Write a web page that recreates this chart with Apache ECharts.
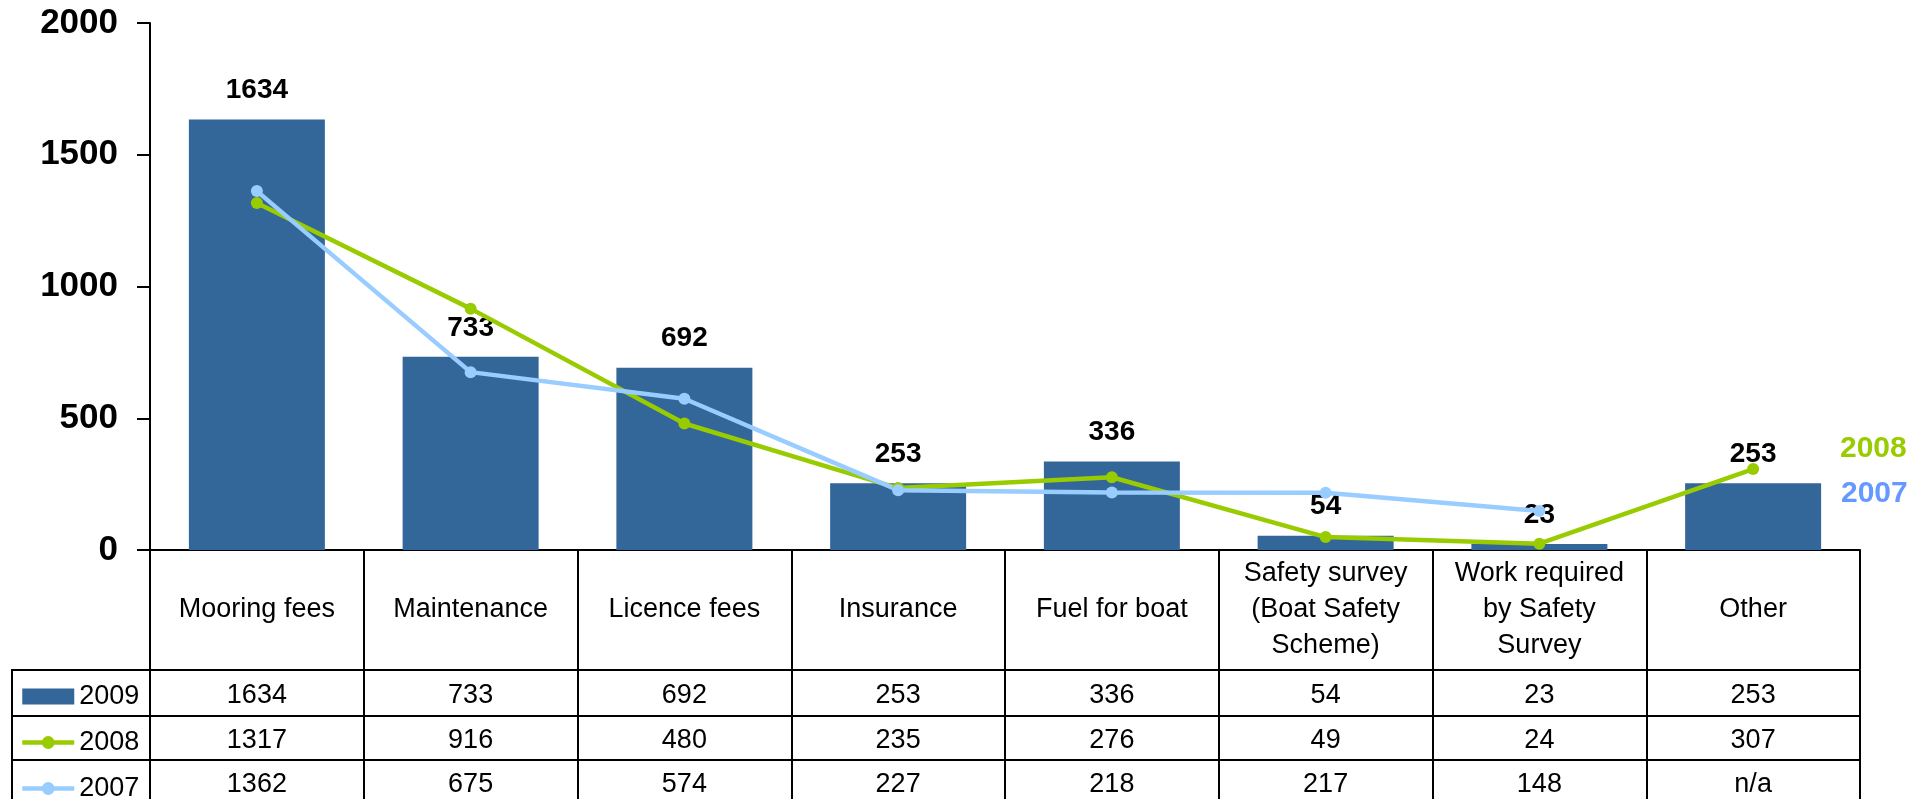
<!DOCTYPE html>
<html>
<head>
<meta charset="utf-8">
<script src="https://cdn.jsdelivr.net/npm/echarts@6/dist/echarts.min.js"></script>
<style>
  html, body { margin: 0; padding: 0; background: #fff; }
  #chart { width: 1930px; height: 799px; }
</style>
</head>
<body>
<div id="chart"></div>
<script>
const categories = [
  'Mooring fees',
  'Maintenance',
  'Licence fees',
  'Insurance',
  'Fuel for boat',
  'Safety survey\n(Boat Safety\nScheme)',
  'Work required\nby Safety\nSurvey',
  'Other'
];
const years = ['2009', '2008', '2007'];
const v2009 = [1634, 733, 692, 253, 336, 54, 23, 253];
const v2008 = [1317, 916, 480, 235, 276, 49, 24, 307];
const v2007 = [1362, 675, 574, 227, 218, 217, 148, null];

const font = 'Liberation Sans, Arial, sans-serif';
const barColor = '#336699';
const greenColor = '#99cc00';
const blueColor = '#99ccff';
const ink = '#000';

const asCell = v => (v == null ? 'n/a' : String(v));

// one category axis per table row, shifted down under the plot
function rowAxis(values, offset, tickLen, margin) {
  return {
    type: 'category',
    gridIndex: 0,
    position: 'bottom',
    offset: offset,
    data: values.map(asCell),
    axisLine: { show: true, lineStyle: { color: ink, width: 2 } },
    axisTick: { show: true, interval: 0, length: tickLen, lineStyle: { color: ink, width: 2 } },
    axisLabel: {
      interval: 0, margin: margin, verticalAlign: 'middle',
      fontFamily: font, fontSize: 27, color: ink
    }
  };
}

const chart = echarts.init(document.getElementById('chart'));

const option = {
  animation: false,
  backgroundColor: '#fff',
  grid: { left: 150, right: 70, top: 23, bottom: 249 },
  legend: {
    data: [
      { name: years[0], icon: 'rect' },
      { name: years[1] },
      { name: years[2] }
    ],
    orient: 'vertical',
    left: 20,
    top: 683,
    height: 140,
    padding: 0,
    itemWidth: 52,
    itemHeight: 16,
    itemGap: 19,
    itemTextGap: 6,
    lineStyle: { width: 4.5 },
    textStyle: { fontFamily: font, fontSize: 27, lineHeight: 26, color: ink },
    selectedMode: false
  },
  xAxis: [
    {
      type: 'category',
      data: categories,
      position: 'bottom',
      axisLine: { show: true, lineStyle: { color: ink, width: 2 } },
      axisTick: { show: true, interval: 0, length: 119, lineStyle: { color: ink, width: 2 } },
      axisLabel: {
        interval: 0, margin: 60, verticalAlign: 'middle', align: 'center',
        fontFamily: font, fontSize: 27, lineHeight: 36, color: ink
      }
    },
    rowAxis(v2009, 120, 46, 26),
    rowAxis(v2008, 166, 44, 25),
    rowAxis(v2007, 210, 46, 25)
  ],
  yAxis: {
    type: 'value',
    min: 0,
    max: 2000,
    interval: 500,
    axisLine: { show: true, lineStyle: { color: ink, width: 2 } },
    axisTick: { show: true, length: 13, lineStyle: { color: ink, width: 2 } },
    splitLine: { show: false },
    axisLabel: {
      margin: 32, formatter: v => String(v),
      fontFamily: font, fontSize: 35, fontWeight: 'bold', color: ink
    }
  },
  series: [
    {
      name: '2009',
      type: 'bar',
      data: v2009,
      barWidth: 136,
      itemStyle: { color: barColor },
      label: {
        show: true, position: 'top', distance: 15,
        fontFamily: font, fontSize: 28, fontWeight: 'bold', color: ink
      }
    },
    {
      name: '2008',
      type: 'line',
      data: v2008,
      symbol: 'circle',
      symbolSize: 12,
      itemStyle: { color: greenColor },
      lineStyle: { color: greenColor, width: 4.5 }
    },
    {
      name: '2007',
      type: 'line',
      data: v2007,
      symbol: 'circle',
      symbolSize: 12,
      itemStyle: { color: blueColor },
      lineStyle: { color: blueColor, width: 4.5 }
    }
  ],
  graphic: [
    // legend column borders of the data table
    { type: 'line', shape: { x1: 12, y1: 670, x2: 150, y2: 670 }, style: { stroke: ink, lineWidth: 2 } },
    { type: 'line', shape: { x1: 12, y1: 716, x2: 150, y2: 716 }, style: { stroke: ink, lineWidth: 2 } },
    { type: 'line', shape: { x1: 12, y1: 760, x2: 150, y2: 760 }, style: { stroke: ink, lineWidth: 2 } },
    { type: 'line', shape: { x1: 12, y1: 669, x2: 12, y2: 799 }, style: { stroke: ink, lineWidth: 2 } },
    // series tags at the right
    {
      type: 'text', left: 1840, top: 434,
      style: { text: '2008', fill: greenColor, font: 'bold 30px ' + font }
    },
    {
      type: 'text', left: 1841, top: 479,
      style: { text: '2007', fill: '#6699ff', font: 'bold 30px ' + font }
    }
  ]
};

chart.setOption(option);
</script>
</body>
</html>
